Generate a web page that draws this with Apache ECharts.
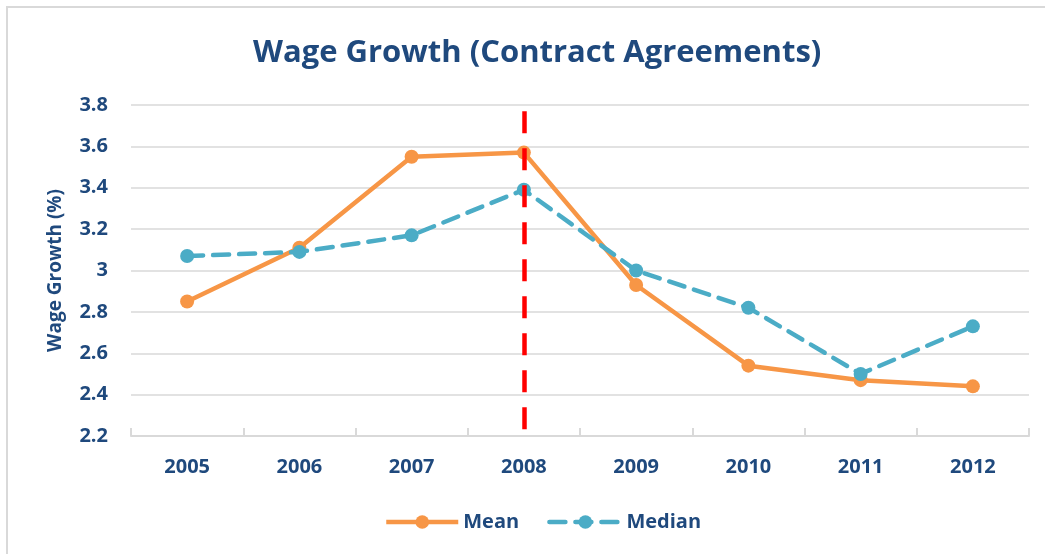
<!DOCTYPE html>
<html>
<head>
<meta charset="utf-8">
<script src="https://cdn.jsdelivr.net/npm/echarts@6/dist/echarts.min.js"></script>
<style>
  html, body { margin: 0; padding: 0; background: #fff; }
  #chart { width: 1045px; height: 554px; }
</style>
</head>
<body>
<div id="chart"></div>
<script>
var years = ["2005", "2006", "2007", "2008", "2009", "2010", "2011", "2012"];
var meanVals = [2.85, 3.11, 3.55, 3.57, 2.93, 2.54, 2.47, 2.44];
var medianVals = [3.07, 3.09, 3.17, 3.39, 3.0, 2.82, 2.5, 2.73];
var yTicks = [2.2, 2.4, 2.6, 2.8, 3, 3.2, 3.4, 3.6, 3.8];
var crisisYear = "2008";
var crisisSpan = [3.77, 2.22]; // top and bottom of the red marker, in data units

var navy = "#1f497d";
var font = "Open Sans";

var myChart = echarts.init(document.getElementById("chart"));

var option = {
  backgroundColor: "#fff",
  textStyle: { fontFamily: font },
  graphic: [
    {
      // chart frame (right/bottom edges fall outside the picture)
      type: "rect",
      shape: { x: 7, y: 7, width: 1100, height: 600 },
      style: { fill: "none", stroke: "#d9d9d9", lineWidth: 2 },
      silent: true
    }
  ],
  title: {
    text: "Wage Growth (Contract Agreements)",
    left: 248,
    top: 33,
    textStyle: { color: navy, fontSize: 31, fontWeight: "bold", fontFamily: font }
  },
  legend: {
    bottom: 17,
    left: 379,
    itemWidth: 72,
    itemHeight: 17,
    itemGap: 28,
    lineStyle: { width: 4.5 },
    textStyle: { color: navy, fontSize: 20, fontWeight: "bold", fontFamily: font },
    data: ["Mean", "Median"]
  },
  grid: {
    left: 131,
    right: 16,
    top: 105,
    bottom: 118
  },
  xAxis: {
    type: "category",
    data: years,
    boundaryGap: true,
    axisLine: { lineStyle: { color: "#d9d9d9", width: 2 } },
    axisTick: { show: true, inside: true, length: 8, lineStyle: { color: "#d9d9d9", width: 2 } },
    axisLabel: { color: navy, fontSize: 20, fontWeight: "bold", margin: 21 }
  },
  yAxis: {
    type: "value",
    min: yTicks[0],
    max: yTicks[yTicks.length - 1],
    interval: 0.2,
    name: "Wage Growth (%)",
    nameLocation: "middle",
    nameGap: 66,
    nameTextStyle: { color: navy, fontSize: 19, fontWeight: "bold" },
    axisLine: { show: false },
    axisTick: { show: false },
    splitLine: { lineStyle: { color: "#d9d9d9", width: 1.5 } },
    axisLabel: {
      color: navy,
      fontSize: 20,
      fontWeight: "bold",
      margin: 23,
      formatter: function (v) {
        return String(parseFloat(v.toFixed(1)));
      }
    }
  },
  series: [
    {
      name: "Mean",
      type: "line",
      data: meanVals,
      symbol: "circle",
      symbolSize: 14,
      itemStyle: { color: "#f79646" },
      lineStyle: { color: "#f79646", width: 4.5 },
      z: 3,
      markLine: {
        silent: true,
        symbol: ["none", "none"],
        label: { show: false },
        lineStyle: { color: "#ff0000", width: 4.5, type: [22, 15] },
        data: [
          [
            { coord: [crisisYear, crisisSpan[0]] },
            { coord: [crisisYear, crisisSpan[1]] }
          ]
        ]
      }
    },
    {
      name: "Median",
      type: "line",
      data: medianVals,
      symbol: "circle",
      symbolSize: 14,
      itemStyle: { color: "#4bacc6" },
      lineStyle: { color: "#4bacc6", width: 4.5, type: [16, 10], cap: "round" },
      z: 4
    }
  ]
};

myChart.setOption(option);
</script>
</body>
</html>
